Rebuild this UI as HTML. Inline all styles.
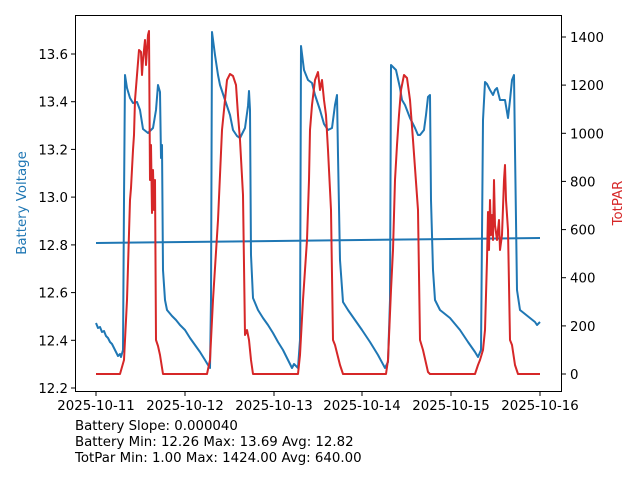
<!DOCTYPE html>
<html><head><style>body{margin:0;background:#fff}</style></head><body>
<svg width="640" height="480" xmlns="http://www.w3.org/2000/svg" font-family="DejaVu Sans, Liberation Sans, sans-serif" font-size="13.33">
<rect width="640" height="480" fill="#fff"/>
<g fill="none" stroke-width="2" stroke-linejoin="round">
<polyline stroke="#1f77b4" points="96,243 540,238"/>
<polyline stroke="#1f77b4" points="96,323 98,328 100,327 102,332 104,331 106,336 108,338 110,342 112,344 114,348 116,352 118,356 120,354 121,357 123,350 124,200 125,75 127,88 130,98 133,103 137,102 140,110 143,129 148,133 150,131 153,128 156,110 158,85 160,92 161,158 162,145 163,270 165,300 167,310 172,316 176,320 180,325 185,330 190,338 195,345 200,352 205,360 208,365 210,368 211,300 212,32 215,55 218,75 220,85 225,100 230,115 233,130 237,136 240,138 245,128 248,106 249,91 250,110 251,255 253,298 258,310 263,318 268,325 273,333 278,342 283,350 288,360 292,368 294,364 298,368 300,340 301,46 304,70 308,80 312,83 315,95 320,110 324,124 328,130 332,128 335,105 337,95 338,155 340,260 343,302 348,310 355,320 362,330 370,342 378,355 385,368 388,362 390,300 391,65 396,70 400,88 402,100 405,105 410,118 415,128 418,135 420,135 424,130 426,115 428,97 430,95 431,200 433,270 435,300 440,310 450,318 460,330 468,342 475,352 478,357 481,350 483,120 485,82 487,84 490,90 493,95 495,90 497,88 500,100 505,100 508,118 510,100 512,80 514,75 515,150 517,290 520,310 525,314 530,318 535,322 537,325 540,322"/>
<polyline stroke="#d62728" points="96,374 120,374 124,360 127,300 130,200 131,188 133,150 134,135 135,100 137,75 139,50 141,52 142,75 143,60 145,40 146,65 148,35 149,31 150,180 151,145 152,213 153,170 154,210 155,180 156,340 158,346 160,355 163,374 207,374 210,360 213,300 218,220 222,130 225,100 227,80 230,74 233,76 236,85 238,115 240,140 243,195 245,335 247,330 249,340 251,360 253,374 298,374 300,355 303,300 305,270 307,240 309,180 310,130 312,105 315,80 318,72 320,90 322,80 324,100 326,115 328,150 331,210 333,340 335,345 340,365 343,374 386,374 388,360 391,290 393,250 395,180 397,145 399,115 401,90 404,75 407,78 410,100 413,140 418,210 420,340 423,350 428,372 430,374 475,374 478,365 480,360 483,350 485,330 487,260 488,212 489,250 490,200 491,235 492,215 493,240 494,180 495,225 497,240 499,220 500,250 502,235 504,180 505,165 506,200 508,230 510,340 512,345 515,365 518,374 540,374"/>
</g>
<rect x="75.5" y="15.5" width="486" height="376" fill="none" stroke="#000" stroke-width="1"/>
<g stroke="#000" stroke-width="1">
<line x1="96" y1="392" x2="96" y2="396"/><line x1="185" y1="392" x2="185" y2="396"/><line x1="274" y1="392" x2="274" y2="396"/><line x1="362" y1="392" x2="362" y2="396"/><line x1="451" y1="392" x2="451" y2="396"/><line x1="540" y1="392" x2="540" y2="396"/>
<line x1="71" y1="388" x2="75" y2="388"/><line x1="71" y1="340.3" x2="75" y2="340.3"/><line x1="71" y1="292.6" x2="75" y2="292.6"/><line x1="71" y1="244.9" x2="75" y2="244.9"/><line x1="71" y1="197.1" x2="75" y2="197.1"/><line x1="71" y1="149.4" x2="75" y2="149.4"/><line x1="71" y1="101.7" x2="75" y2="101.7"/><line x1="71" y1="54" x2="75" y2="54"/>
<line x1="562" y1="374" x2="566" y2="374"/><line x1="562" y1="325.9" x2="566" y2="325.9"/><line x1="562" y1="277.7" x2="566" y2="277.7"/><line x1="562" y1="229.6" x2="566" y2="229.6"/><line x1="562" y1="181.4" x2="566" y2="181.4"/><line x1="562" y1="133.3" x2="566" y2="133.3"/><line x1="562" y1="85.1" x2="566" y2="85.1"/><line x1="562" y1="37" x2="566" y2="37"/>
</g>
<g text-anchor="middle">
<text x="96" y="410">2025-10-11</text><text x="185" y="410">2025-10-12</text><text x="274" y="410">2025-10-13</text><text x="362" y="410">2025-10-14</text><text x="451" y="410">2025-10-15</text><text x="540" y="410">2025-10-16</text>
</g>
<g text-anchor="end">
<text x="68" y="393">12.2</text><text x="68" y="345.3">12.4</text><text x="68" y="297.6">12.6</text><text x="68" y="249.9">12.8</text><text x="68" y="202.1">13.0</text><text x="68" y="154.4">13.2</text><text x="68" y="106.7">13.4</text><text x="68" y="59">13.6</text>
</g>
<g>
<text x="570" y="379">0</text><text x="570" y="330.9">200</text><text x="570" y="282.7">400</text><text x="570" y="234.6">600</text><text x="570" y="186.4">800</text><text x="570" y="138.3">1000</text><text x="570" y="90.1">1200</text><text x="570" y="42">1400</text>
</g>
<text transform="translate(26,203) rotate(-90)" text-anchor="middle" fill="#1f77b4">Battery Voltage</text>
<text transform="translate(622,203) rotate(-90)" text-anchor="middle" fill="#d62728">TotPAR</text>
<text x="75" y="430">Battery Slope: 0.000040</text>
<text x="75" y="446">Battery Min: 12.26 Max: 13.69 Avg: 12.82</text>
<text x="75" y="462">TotPar Min: 1.00 Max: 1424.00 Avg: 640.00</text>
</svg>
</body></html>
